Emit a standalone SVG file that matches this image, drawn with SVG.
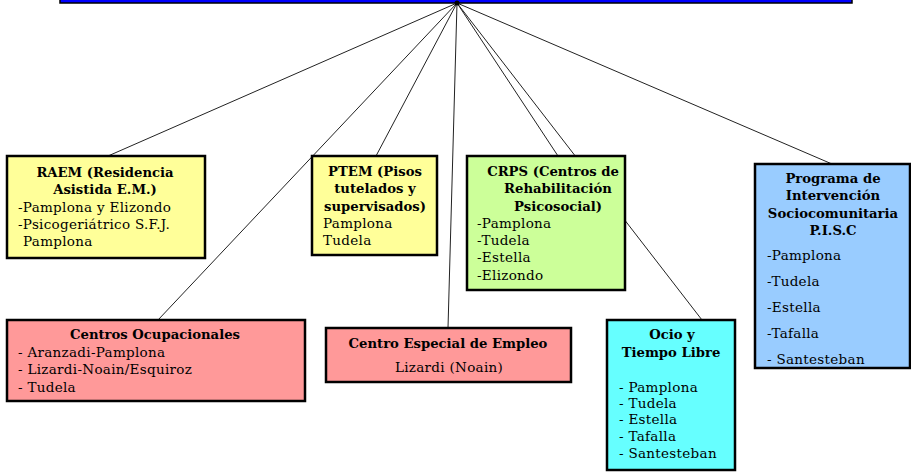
<svg xmlns="http://www.w3.org/2000/svg" width="911" height="472" viewBox="0 0 911 472">
<style>
.box{stroke:#000;stroke-width:2.5}
.t{font-family:"DejaVu Serif","Liberation Serif",serif;font-size:13.5px;letter-spacing:0.3px;fill:#000}
.b{font-weight:bold;font-size:13.2px;letter-spacing:0;text-anchor:middle}
.c{text-anchor:middle}
.ln{stroke:#222;stroke-width:1;fill:none}
</style>
<rect width="911" height="472" fill="#fff"/>
<g id="top">
<rect x="60" y="-3" width="792" height="6" fill="#0000ff" stroke="#000" stroke-width="1.5"/>
</g>
<g id="connectors">
<line class="ln" x1="457" y1="3" x2="108" y2="156"/>
<line class="ln" x1="457" y1="3" x2="158" y2="320"/>
<line class="ln" x1="457" y1="3" x2="376" y2="156"/>
<line class="ln" x1="457" y1="3" x2="448" y2="328"/>
<line class="ln" x1="457" y1="3" x2="558" y2="156"/>
<line class="ln" x1="457" y1="3" x2="702" y2="320"/>
<line class="ln" x1="457" y1="3" x2="832" y2="164"/>
<circle cx="457" cy="3" r="2.5" fill="#000"/>
</g>
<g id="raem">
<rect class="box" x="7" y="156" width="198" height="102" fill="#ffff99"/>
<text class="t b" x="105" y="177">RAEM (Residencia</text>
<text class="t b" x="105" y="194">Asistida E.M.)</text>
<text class="t" x="18" y="212">-Pamplona y Elizondo</text>
<text class="t" x="18" y="229">-Psicogeriátrico S.F.J.</text>
<text class="t" x="23" y="246">Pamplona</text>
</g>
<g id="ptem">
<rect class="box" x="312" y="156" width="125" height="99" fill="#ffff99"/>
<text class="t b" x="375" y="176">PTEM (Pisos</text>
<text class="t b" x="375" y="193">tutelados y</text>
<text class="t b" x="375" y="211">supervisados)</text>
<text class="t" x="323" y="228">Pamplona</text>
<text class="t" x="323" y="245">Tudela</text>
</g>
<g id="crps">
<rect class="box" x="467" y="156" width="158" height="134" fill="#ccff99"/>
<text class="t b" x="553" y="176">CRPS (Centros de</text>
<text class="t b" x="558" y="193">Rehabilitación</text>
<text class="t b" x="558" y="211">Psicosocial)</text>
<text class="t" x="477" y="228">-Pamplona</text>
<text class="t" x="477" y="245">-Tudela</text>
<text class="t" x="477" y="262">-Estella</text>
<text class="t" x="477" y="280">-Elizondo</text>
</g>
<g id="pisc">
<rect class="box" x="755" y="164" width="155" height="204" fill="#99ccff"/>
<text class="t b" x="833" y="183">Programa de</text>
<text class="t b" x="833" y="200">Intervención</text>
<text class="t b" x="833" y="218">Sociocomunitaria</text>
<text class="t b" x="833" y="235">P.I.S.C</text>
<text class="t" x="767" y="260">-Pamplona</text>
<text class="t" x="767" y="286">-Tudela</text>
<text class="t" x="767" y="312">-Estella</text>
<text class="t" x="767" y="338">-Tafalla</text>
<text class="t" x="767" y="364">- Santesteban</text>
</g>
<g id="ocupacionales">
<rect class="box" x="7" y="320" width="298" height="81" fill="#ff9999"/>
<text class="t b" x="155" y="339">Centros Ocupacionales</text>
<text class="t" x="18" y="357">- Aranzadi-Pamplona</text>
<text class="t" x="18" y="374">- Lizardi-Noain/Esquiroz</text>
<text class="t" x="18" y="392">- Tudela</text>
</g>
<g id="empleo">
<rect class="box" x="326" y="328" width="245" height="54" fill="#ff9999"/>
<text class="t b" x="448" y="348">Centro Especial de Empleo</text>
<text class="t c" x="449" y="372">Lizardi (Noain)</text>
</g>
<g id="ocio">
<rect class="box" x="607" y="320" width="128" height="150" fill="#66ffff"/>
<text class="t b" x="672" y="339">Ocio y</text>
<text class="t b" x="671" y="357">Tiempo Libre</text>
<text class="t" x="619" y="392">- Pamplona</text>
<text class="t" x="619" y="408">- Tudela</text>
<text class="t" x="619" y="424">- Estella</text>
<text class="t" x="619" y="441">- Tafalla</text>
<text class="t" x="619" y="458">- Santesteban</text>
</g>
</svg>
